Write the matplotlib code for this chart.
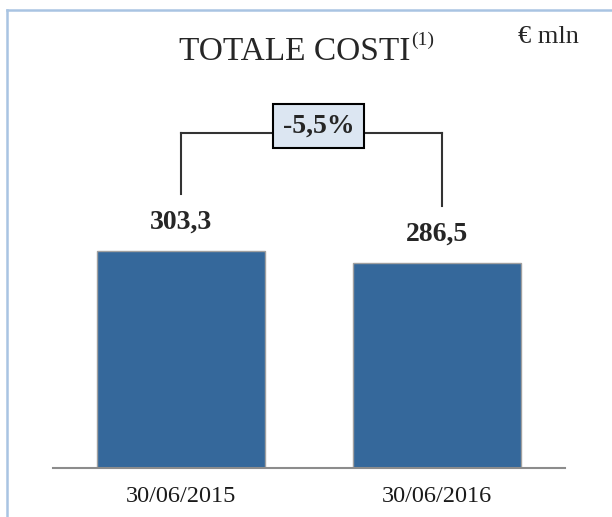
import matplotlib
matplotlib.use("Agg")
import matplotlib.pyplot as plt
from matplotlib.lines import Line2D

# data
categories = ["30/06/2015", "30/06/2016"]
values = [303.3, 286.5]
value_labels = ["303,3", "286,5"]

W, H = 612, 517
fig = plt.figure(figsize=(W / 100, H / 100), dpi=100)
plt.rcParams['font.family'] = ['Liberation Serif', 'DejaVu Serif']

# axes placed in pixel terms: baseline at y=468, x from 53 to 565
ax = fig.add_axes([53 / W, (H - 468) / H, 512 / W, 358.5 / H])
x = range(len(categories))
ax.bar(x, values, width=0.66, color='#35689B', edgecolor='#A0A0A0', linewidth=1.0, zorder=2)
ax.set_xlim(-0.5, 1.5)
ax.set_ylim(0, 500)
for s in ['top', 'right', 'left']:
    ax.spines[s].set_visible(False)
ax.spines['bottom'].set_color('#8C8C8C')
ax.spines['bottom'].set_linewidth(1.5)
ax.set_yticks([])
ax.set_xticks(list(x))
ax.set_xticklabels(categories, fontsize=17.5, color='#1a1a1a')
ax.tick_params(axis='x', length=0, pad=13)

# value labels
for i, v in enumerate(values):
    ax.text(i, v + 40, value_labels[i], ha='center', va='center',
            fontsize=20, fontweight='bold', color='#262626')

# bracket with percentage change
change = (values[1] - values[0]) / values[0] * 100
top = 467
box_l, box_r = 0.365, 0.71
ax.plot([0, 0], [values[0] + 79, top], color='#333333', lw=1.5)
ax.plot([0, box_l], [top, top], color='#333333', lw=1.5)
ax.plot([box_r, 1.02], [top, top], color='#333333', lw=1.5)
ax.plot([1.02, 1.02], [values[1] + 79, top], color='#333333', lw=1.5)
ax.text((box_l + box_r) / 2, top + 10, f"{change:.1f}%".replace('.', ','),
        ha='center', va='center', fontsize=20, fontweight='bold', color='#262626',
        bbox=dict(boxstyle='square,pad=0.35', facecolor='#DCE6F2', edgecolor='black', linewidth=1.5))

# title and unit
fig.text(410 / W, 1 - 60 / H, "TOTALE COSTI", ha='right', va='baseline', fontsize=24, color='#262626')
fig.text(411 / W, 1 - 45 / H, "(1)", ha='left', va='baseline', fontsize=14, color='#262626')
fig.text(518 / W, 1 - 43 / H, "€ mln", ha='left', va='baseline', fontsize=19, color='#262626')

# light blue frame on top and left
fig.add_artist(Line2D([6.5 / W, 1], [1 - 9.5 / H, 1 - 9.5 / H], color='#A9C4E2', lw=1.8))
fig.add_artist(Line2D([6.5 / W, 6.5 / W], [0, 1 - 9.5 / H], color='#A9C4E2', lw=1.8))

fig.savefig("out.png", dpi=100)
